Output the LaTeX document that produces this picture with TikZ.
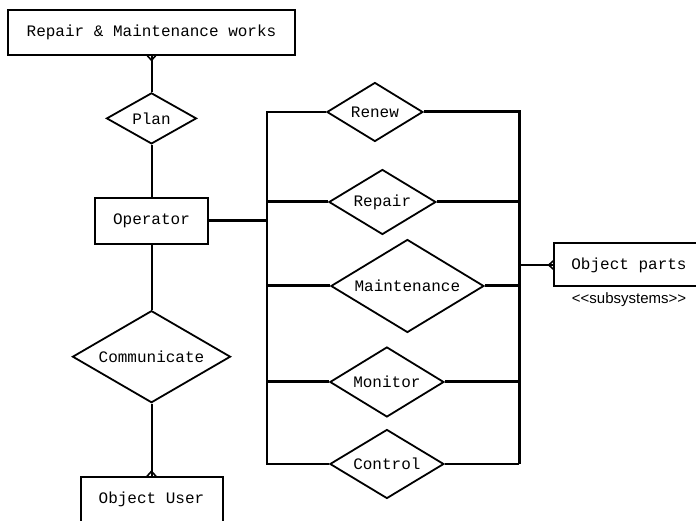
\documentclass[tikz,border=0pt]{standalone}
\usepackage{fontspec}
\setmonofont{Liberation Mono}
\setsansfont{Liberation Sans}
\usetikzlibrary{shapes.geometric, arrows.meta, positioning}
\tikzset{
  ent/.style={draw, line width=2pt, align=center, inner sep=0pt,
              font=\ttfamily\fontsize{16}{18}\selectfont},
  rel/.style={draw, diamond, aspect=1.6, line width=1.8pt, inner sep=0pt,
              font=\ttfamily\fontsize{16}{18}\selectfont},
  lnk/.style={line width=2pt},
  bus/.style={line width=3pt},
  many/.style={postaction={draw,shorten >=-1.5pt,
               -{Straight Barb[reversed,length=5pt,width=9pt,line width=1.6pt]}}}
}

\begin{document}
\begin{tikzpicture}[x=1pt,y=1pt]
  \useasboundingbox (0,0) rectangle (696,521);
  % left column
  \node[ent,minimum width=287pt,minimum height=45pt] (Works) at (151.5,488.5)
       {Repair \& Maintenance works};
  \node[rel,minimum width=90pt,minimum height=51pt,below=36pt of Works] (Plan) {Plan};
  \node[ent,minimum width=113pt,minimum height=46pt,below=52pt of Plan] (Operator) {Operator};
  \node[rel,minimum width=158pt,minimum height=92pt,below=65pt of Operator] (Communicate) {Communicate};
  \node[ent,minimum width=142pt,minimum height=46pt,below=72pt of Communicate] (User) {Object User};

  % right column
  \node[rel,minimum width=96pt,minimum height=59pt,anchor=west]  (Renew)  at (326,409) {Renew};
  \node[rel,minimum width=107pt,minimum height=65pt,anchor=west] (Repair) at (328,319) {Repair};
  \node[rel,minimum width=153pt,minimum height=93pt,anchor=west] (Maintenance) at (330,235) {Maintenance};
  \node[rel,minimum width=114pt,minimum height=70pt,anchor=west] (Monitor) at (329,139) {Monitor};
  \node[rel,minimum width=114pt,minimum height=69pt,anchor=west] (Control) at (329,57) {Control};
  \node[ent,minimum width=150pt,minimum height=43pt,anchor=west] (Parts) at (553,256) {Object parts};
  \node[below=2pt of Parts,font=\sffamily\fontsize{15}{17}\selectfont] (Sub) {<{}<subsystems>{}>};

  \coordinate (busL) at (267,301);
  \coordinate (busR) at (519,256);

  \draw[lnk,many](Plan)--(Works);
  \draw[lnk](Plan)--(Operator);
  \draw[lnk](Operator)--(Communicate);
  \draw[lnk,many](Communicate)--(User);
  \draw[bus](Operator.east)--(Operator.east -| busL);
  % buses
  \draw[lnk](Renew.west)--(Renew.west -| busL)--(Control.west -| busL)--(Control.west);
  \draw[bus](Renew.east)--(Renew.east -| busR)--(Control.east -| busR);
  \draw[lnk](Control.east -| busR)--(Control.east);
  \foreach \r in {Repair,Maintenance,Monitor}{
    \draw[bus](\r.west)--(\r.west -| busL);
    \draw[bus](\r.east)--(\r.east -| busR);
  }
  \draw[lnk,many](busR)--(Parts.west);
\end{tikzpicture}
\end{document}
